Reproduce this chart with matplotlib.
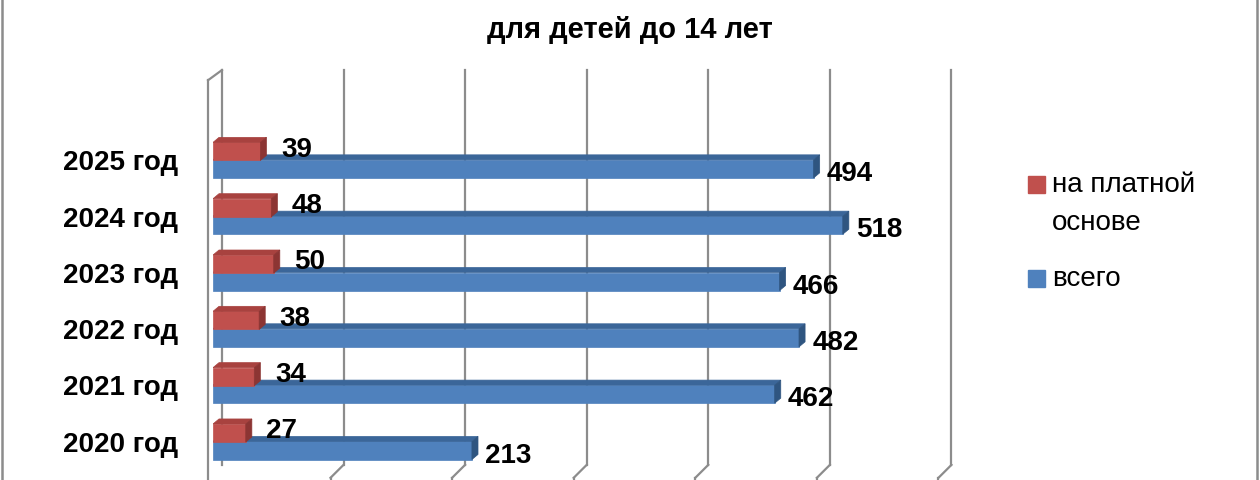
import matplotlib
matplotlib.use("Agg")
import matplotlib.pyplot as plt
from matplotlib.patches import Polygon, Rectangle
import numpy as np

plt.rcParams['font.family'] = ['Liberation Sans', 'DejaVu Sans']

categories = ["2020 год", "2021 год", "2022 год", "2023 год", "2024 год", "2025 год"]
paid = [27, 34, 38, 50, 48, 39]
total = [213, 462, 482, 466, 518, 494]
series_names = ["на платной\nоснове", "всего"]
title_line = "для детей до 14 лет"

red = "#C0504D"
red_top = "#A8423F"
red_end = "#8C3533"
blue = "#4F81BD"
blue_top = "#3B6699"
blue_end = "#2F5580"
grid_c = "#8C8C8C"

fig = plt.figure(figsize=(12.6, 4.8), dpi=100)
ax = fig.add_axes([0.169, 0.021, 0.579, 0.833])
ax.set_xlim(0, 600)
ax.set_ylim(-0.5, 6.6)
for s in ax.spines.values():
    s.set_visible(False)
ax.set_xticks([])
ax.set_yticks(range(len(categories)))
ax.set_yticklabels(categories, fontsize=20, fontweight='bold')
ax.tick_params(axis='y', length=0, pad=25)

# 3D-style walls and gridlines
back = 7.4      # back-wall offset (data units)
front = -10.7   # floor front offset relative to back
yb_floor, yf_floor, y_bot, y_top = -0.41, -0.64, -0.9, 6.6
kw = dict(color=grid_c, lw=1.6, zorder=0, clip_on=False)
for gx in [100, 200, 300, 400, 500, 600]:
    xb = gx + back
    ax.plot([xb, xb], [yb_floor, y_top], **kw)
    ax.plot([xb, xb + front], [yb_floor, yf_floor], **kw)
    ax.plot([xb + front, xb + front], [yf_floor, y_bot], **kw)
ax.plot([back, back], [yb_floor, y_top], **kw)
ax.plot([-4, -4], [y_bot, 6.42], **kw)
ax.plot([-4, back], [6.42, y_top], **kw)

h = 0.32
off = 0.155
dx = 5
dy = 0.09
y = np.arange(len(categories))

def bar3d(yc, v, face, top, end, z):
    ax.barh(yc, v, height=h, color=face, zorder=z, edgecolor=face, lw=0.5)
    yt = yc + h / 2
    ax.add_patch(Polygon([(0, yt), (v, yt), (v + dx, yt + dy), (dx, yt + dy)],
                         closed=True, facecolor=top, edgecolor=top, lw=0.5, zorder=z))
    ax.add_patch(Polygon([(v, yc - h / 2), (v, yt), (v + dx, yt + dy), (v + dx, yc - h / 2 + dy)],
                         closed=True, facecolor=end, edgecolor=end, lw=0.5, zorder=z))

for i in range(len(categories)):
    bar3d(y[i] - off, total[i], blue, blue_top, blue_end, 2)
    bar3d(y[i] + off, paid[i], red, red_top, red_end, 3)
    ax.text(paid[i] + 17, y[i] + off + 0.03, str(paid[i]), fontsize=20, fontweight='bold',
            va='center', ha='left', zorder=5)
    ax.text(total[i] + 11, y[i] - off - 0.09, str(total[i]), fontsize=20, fontweight='bold',
            va='center', ha='left', zorder=5)

fig.text(0.5, 0.937, title_line, fontsize=21, fontweight='bold', ha='center', va='center')

# legend (manual, first line aligned with marker)
W, H = 1260.0, 480.0
leg_items = [(series_names[0], red, 184.5), (series_names[1], blue, 278.5)]
for label, col, yc in leg_items:
    fig.add_artist(Rectangle((1028 / W, 1 - (yc + 8.5) / H), 17 / W, 17 / H,
                             transform=fig.transFigure, facecolor=col, edgecolor=col))
    lines = label.split("\n")
    for k, ln in enumerate(lines):
        fig.text(1052 / W, 1 - (yc + 1 + 38 * k) / H, ln, fontsize=20,
                 ha='left', va='center')

fig.add_artist(Rectangle((0.0015, -0.01), 0.996, 1.05, transform=fig.transFigure,
                         fill=False, edgecolor="#8C8C8C", lw=1.8))

fig.savefig("out.png", dpi=100)
